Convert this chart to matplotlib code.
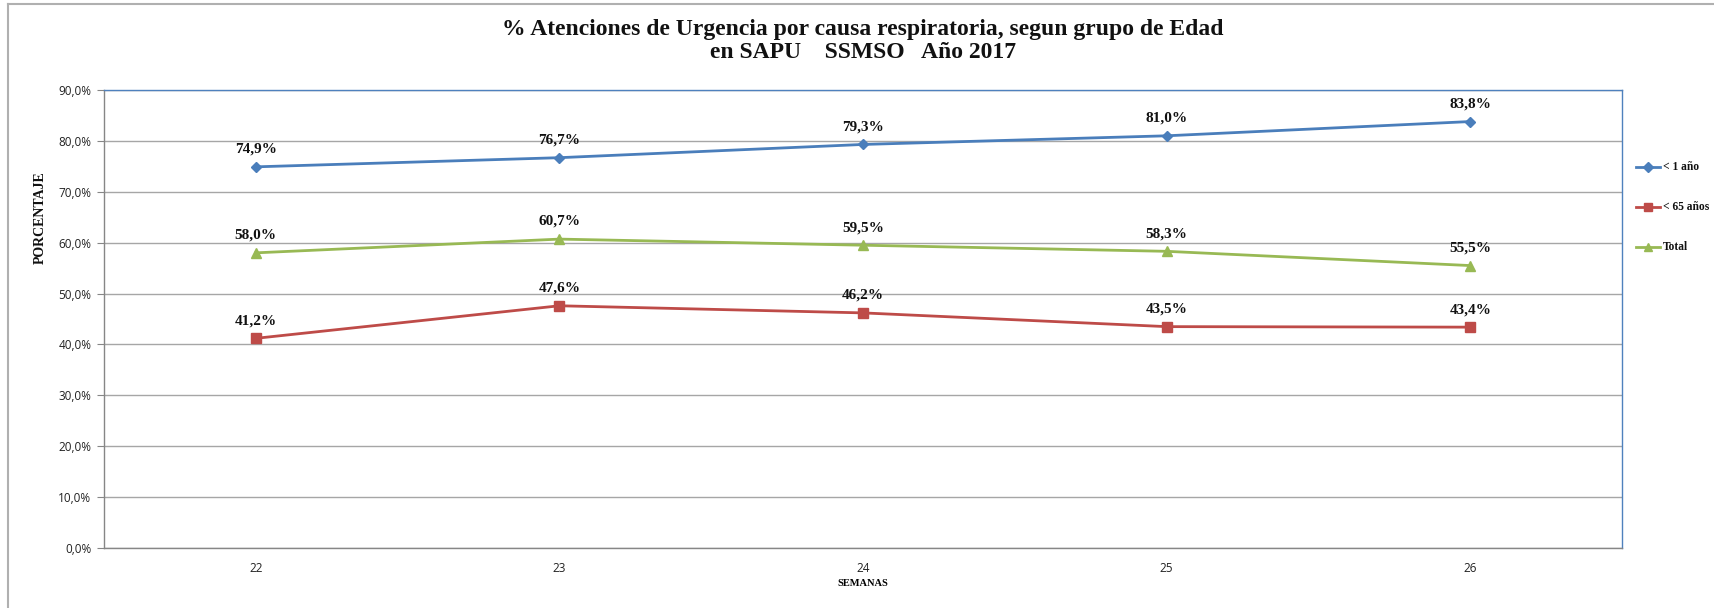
import matplotlib
matplotlib.use("Agg")
import matplotlib.pyplot as plt
from matplotlib.lines import Line2D
from matplotlib.ticker import FuncFormatter, MultipleLocator

semanas = ["22", "23", "24", "25", "26"]
menor_1 = [74.9, 76.7, 79.3, 81.0, 83.8]
menor_65 = [41.2, 47.6, 46.2, 43.5, 43.4]
total = [58.0, 60.7, 59.5, 58.3, 55.5]
series_names = ["< 1 año", "< 65 años", "Total"]

W, H = 1714, 608
fig = plt.figure(figsize=(W / 100, H / 100), dpi=100)
fig.patch.set_facecolor("white")

# outer chart frame (left and top edges)
fig.add_artist(Line2D([8 / W, 8 / W], [0, 1 - 4 / H], transform=fig.transFigure,
                      color="#B0B0B0", lw=1.5))
fig.add_artist(Line2D([8 / W, 1], [1 - 4 / H, 1 - 4 / H], transform=fig.transFigure,
                      color="#B0B0B0", lw=1.5))

L, R, T, B = 104, 1622, 90, 548
ax = fig.add_axes([L / W, 1 - B / H, (R - L) / W, (B - T) / H])

x = list(range(len(semanas)))
styles = [
    (menor_1, "#4A7EBB", "D", 5.5),
    (menor_65, "#BE4B48", "s", 7.5),
    (total, "#98B954", "^", 7.5),
]
serif = "Liberation Serif"
for vals, col, mk, ms in styles:
    ax.plot(x, vals, color=col, lw=2.0, marker=mk, markersize=ms,
            markerfacecolor=col, markeredgecolor=col, zorder=3)
    for xi, v in zip(x, vals):
        ax.annotate(f"{v:.1f}%".replace(".", ","), (xi, v), xytext=(0, 8),
                    textcoords="offset points", ha="center", va="bottom",
                    fontsize=11, fontweight="bold", family=serif, color="#111111")

ax.set_xlim(-0.5, len(semanas) - 0.5)
ax.set_ylim(0, 90)
ax.yaxis.set_major_locator(MultipleLocator(10))
ax.yaxis.set_major_formatter(FuncFormatter(lambda v, p: f"{v:.1f}%".replace(".", ",")))
ax.set_xticks(x)
ax.set_xticklabels(semanas)
ax.grid(axis="y", color="#A6A6A6", lw=1.0)
ax.set_axisbelow(True)

for side in ("left", "bottom"):
    ax.spines[side].set_color("#868686")
    ax.spines[side].set_linewidth(1.0)
for side in ("top", "right"):
    ax.spines[side].set_color("#4F81BD")
    ax.spines[side].set_linewidth(1.0)

ax.tick_params(axis="y", length=5, color="#868686", labelsize=8.5, pad=4,
               labelcolor="#222222")
ax.tick_params(axis="x", length=0, labelsize=8.5, pad=10, labelcolor="#222222")
for lab in ax.get_xticklabels() + ax.get_yticklabels():
    lab.set_family("Open Sans")

fig.text(40 / W, 1 - 218 / H, "PORCENTAJE", rotation=90, ha="center", va="center",
         family=serif, fontweight="bold", fontsize=10, color="#111111")
ax.set_xlabel("SEMANAS", family=serif, fontweight="bold", fontsize=7.5, labelpad=3)

fig.text(0.5 * (L + R) / W, 1 - 29 / H,
         "% Atenciones de Urgencia por causa respiratoria, segun grupo de Edad",
         ha="center", va="center", family=serif, fontweight="bold", fontsize=17,
         color="#111111")
fig.text(0.5 * (L + R) / W, 1 - 53 / H, "en SAPU    SSMSO   Año 2017",
         ha="center", va="center", family=serif, fontweight="bold", fontsize=17,
         color="#111111")

# legend entries on the right
leg_y = [167, 207, 247]
for (vals, col, mk, ms), name, ly in zip(styles, series_names, leg_y):
    yf = 1 - ly / H
    fig.add_artist(Line2D([1636 / W, 1660 / W], [yf, yf], transform=fig.transFigure,
                          color=col, lw=2.0))
    fig.add_artist(Line2D([1648 / W], [yf], transform=fig.transFigure, color=col,
                          marker=mk, markersize=ms * 0.85, markerfacecolor=col,
                          markeredgecolor=col, lw=0))
    fig.text(1663 / W, yf, name, ha="left", va="center", family=serif,
             fontweight="bold", fontsize=8.3, color="#111111")

fig.savefig("out.png", dpi=100, facecolor="white")
